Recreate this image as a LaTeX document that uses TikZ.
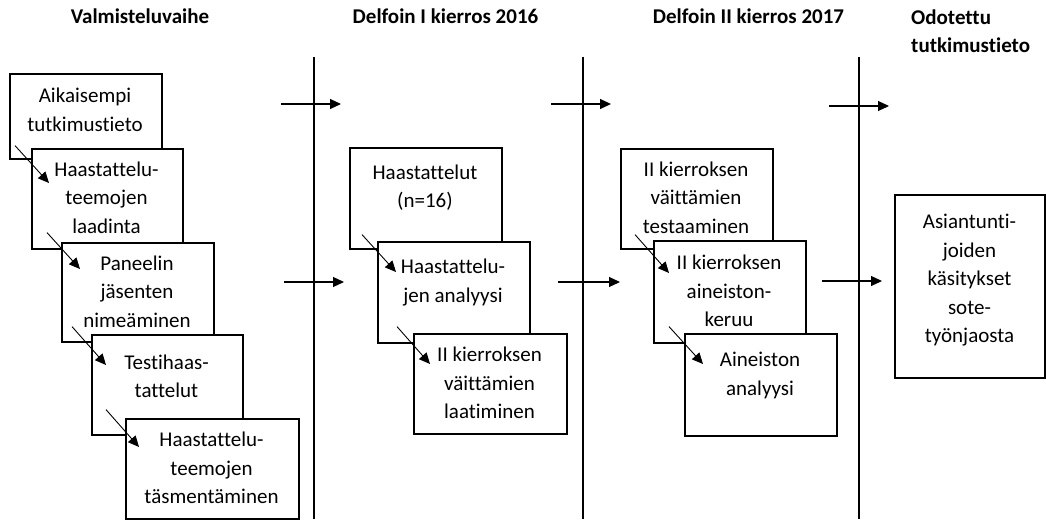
\documentclass[tikz,border=0pt]{standalone}
\usepackage{fontspec}
\setmainfont[Ligatures=NoCommon]{Carlito}
\usetikzlibrary{arrows.meta}

\begin{document}
\begin{tikzpicture}[x=1pt,y=-1pt,
    box/.style={draw, fill=white, line width=1.6pt, anchor=north west, inner sep=0pt},
    txt/.style={align=center, inner sep=0pt, font=\fontsize{21}{28.5}\selectfont},
    head/.style={inner sep=0pt, font=\bfseries\fontsize{21}{28}\selectfont},
    flow/.style={line width=1.1pt, -{Triangle[length=11pt,width=10pt]}},
    link/.style={line width=0.9pt, -{Triangle[length=11pt,width=10pt]}},
    divider/.style={line width=1.8pt}]
  % page frame
  \useasboundingbox (0,0) rectangle (1046,519);

  % column headings
  \node[head, anchor=base] (hvalm) at (140,24) {Valmisteluvaihe};
  \node[head, anchor=base] (hdelf1) at (445.5,24) {Delfoin I kierros 2016};
  \node[head, anchor=base] (hdelf2) at (748.5,24) {Delfoin II kierros 2017};
  \node[head, anchor=north west, align=left] (hodot) at (911,10) {Odotettu\\tutkimustieto};

  % dividers between the phases
  \coordinate (div1top) at (314,57);  \coordinate (div1bot) at (314,519);
  \coordinate (div2top) at (583,57);  \coordinate (div2bot) at (583,519);
  \coordinate (div3top) at (859,57);  \coordinate (div3bot) at (859,519);
  \draw[divider] (div1top) -- (div1bot);
  \draw[divider] (div2top) -- (div2bot);
  \draw[divider] (div3top) -- (div3bot);

  % phase 1: VALMISTELUVAIHE
  \node[box, minimum width=152pt, minimum height=85pt] (aikais) at (9,73) {};
  \node[txt] (aikaist) at (85,110) {Aikaisempi\\tutkimustieto};
  \node[box, minimum width=151pt, minimum height=100pt] (teemat) at (31,148) {};
  \node[txt] (teematt) at (106.5,197.5) {Haastattelu-\\teemojen\\laadinta};
  \node[box, minimum width=152pt, minimum height=99pt] (paneeli) at (61,242) {};
  \node[txt] (paneelit) at (137,291.5) {Paneelin\\jäsenten\\nimeäminen};
  \node[box, minimum width=151pt, minimum height=100pt] (testi) at (91,334) {};
  \node[txt] (testit) at (166.5,376.5) {Testihaas-\\tattelut};
  \node[box, minimum width=173pt, minimum height=100pt] (tasm) at (125,418) {};
  \node[txt] (tasmt) at (211.5,468) {Haastattelu-\\teemojen\\täsmentäminen};

  % phase 2: DELFOI I
  \node[box, minimum width=152pt, minimum height=101pt] (haast) at (349,147) {};
  \node[txt] (haastt) at (425,187.5) {Haastattelut\\(n=16)};
  \node[box, minimum width=152pt, minimum height=101pt] (analyysi) at (377,241) {};
  \node[txt] (analyysit) at (453,282.5) {Haastattelu-\\jen analyysi};
  \node[box, minimum width=153pt, minimum height=100pt] (laadinta) at (413,333) {};
  \node[txt] (laadintat) at (489.5,383) {II kierroksen\\väittämien\\laatiminen};

  % phase 3: DELFOI II
  \node[box, minimum width=152pt, minimum height=100pt] (testaus) at (620,148) {};
  \node[txt] (testaust) at (696,197.5) {II kierroksen\\väittämien\\testaaminen};
  \node[box, minimum width=152pt, minimum height=102pt] (keruu) at (653,240) {};
  \node[txt] (keruut) at (729,291) {II kierroksen\\aineiston-\\keruu};
  \node[box, minimum width=152pt, minimum height=102pt] (aineisto) at (684,333) {};
  \node[txt] (aineistot) at (760,375.5) {Aineiston\\analyysi};

  % phase 4: result
  \node[box, minimum width=150pt, minimum height=183pt] (kasitys) at (894,194) {};
  \node[txt] (kasityst) at (969.5,280.5) {Asiantunti-\\joiden\\käsitykset\\sote-\\työnjaosta};

  % links inside the phases
  \draw[link] ([shift={(6,-14)}]aikais.south west) -- ([shift={(18,35)}]teemat.north west);
  \draw[link] ([shift={(16,-17)}]teemat.south west) -- ([shift={(19,27)}]paneeli.north west);
  \draw[link] ([shift={(11,-16)}]paneeli.south west) -- ([shift={(15,31)}]testi.north west);
  \draw[link] ([shift={(15,-26)}]testi.south west) -- ([shift={(14,29)}]tasm.north west);
  \draw[link] ([shift={(13,-15)}]haast.south west) -- ([shift={(19,31)}]analyysi.north west);
  \draw[link] ([shift={(20,-17)}]analyysi.south west) -- ([shift={(17,31)}]laadinta.north west);
  \draw[link] ([shift={(15,-15)}]testaus.south west) -- ([shift={(16,33)}]keruu.north west);
  \draw[link] ([shift={(16,-17)}]keruu.south west) -- ([shift={(19,31)}]aineisto.north west);

  % arrows across the dividers
  \coordinate (top1a) at (281,104);  \coordinate (top1b) at (341,104);
  \coordinate (top2a) at (551,104);  \coordinate (top2b) at (611,104);
  \coordinate (top3a) at (829,106);  \coordinate (top3b) at (889,106);
  \coordinate (mid1a) at (284,282);  \coordinate (mid1b) at (344,282);
  \coordinate (mid2a) at (558,282);  \coordinate (mid2b) at (620,282);
  \coordinate (mid3a) at (822,281);  \coordinate (mid3b) at (882,281);
  \draw[flow] (top1a) -- (top1b);
  \draw[flow] (top2a) -- (top2b);
  \draw[flow] (top3a) -- (top3b);
  \draw[flow] (mid1a) -- (mid1b);
  \draw[flow] (mid2a) -- (mid2b);
  \draw[flow] (mid3a) -- (mid3b);
\end{tikzpicture}
\end{document}
